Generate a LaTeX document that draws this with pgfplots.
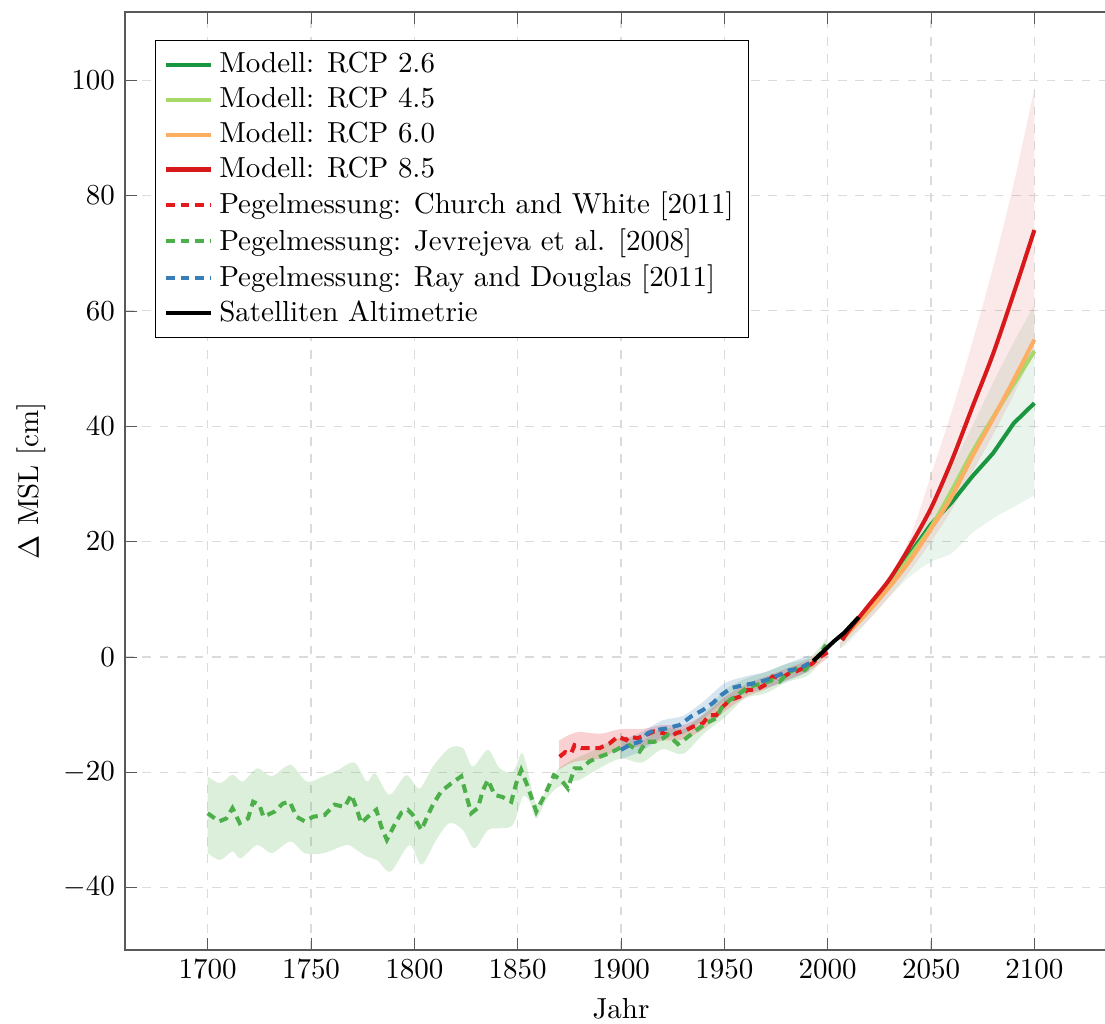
\documentclass[border=0pt]{standalone}
\usepackage{pgfplots}
\pgfplotsset{compat=1.18}
\usepgfplotslibrary{fillbetween}
\definecolor{cA}{HTML}{1A9641}
\definecolor{cB}{HTML}{A6D96A}
\definecolor{cC}{HTML}{FDAE61}
\definecolor{cD}{HTML}{D7191C}
\definecolor{cCW}{HTML}{E41A1C}
\definecolor{cJ}{HTML}{4DAF4A}
\definecolor{cRD}{HTML}{377EB8}
\begin{document}
\begin{tikzpicture}
\begin{axis}[
  scale only axis,
  width=342.24pt, height=323.61pt,
  xmin=1660, xmax=2140, ymin=-50.8, ymax=111.8,
  xtick={1700,1750,...,2100},
  ytick={-40,-20,...,100},
  xticklabel style={/pgf/number format/1000 sep={}},
  grid=major,
  major grid style={dashed, black!14},
  axis line style={black!65},
  tick style={black!65},
  xlabel={Jahr},
  ylabel={$\Delta$ MSL [cm]},
  ylabel style={yshift=-1pt},
  legend pos=north west,
  legend cell align=left,
  legend style={draw=black, fill=white, row sep=-0.5pt},
  legend image code/.code={\draw[#1] (0cm,0cm) -- (0.55cm,0cm);},
]
\coordinate (O) at (rel axis cs:0,0);
% ---------------- bands ----------------
% Jevrejeva band
\addplot[name path=JU, draw=none, smooth, forget plot] coordinates {
(1700,-20.7)(1706,-21.9)(1712,-20.4)(1717,-21.6)(1724,-19.3)(1731,-20.7)(1740,-18.7)(1748,-21.6)(1756,-20.7)(1763,-19.6)(1771,-18.3)(1777,-21.6)(1781,-20.2)(1788,-23.9)(1796,-20.5)(1802.5,-22.8)(1809,-19)(1817,-15.8)(1823.5,-15.8)(1828.3,-19)(1835.6,-16.1)(1841.2,-19.3)(1847.7,-19.9)(1851.7,-16.7)(1854,-18.4)(1859,-25.5)(1863.8,-23)(1868.6,-19.9)(1872,-18.8)(1876.7,-17.8)(1885,-16.5)(1890,-15.5)(1900,-14)(1910,-14.5)(1920,-12.3)(1930,-12.5)(1940,-9.8)(1950,-5.8)(1960,-3.8)(1970,-2.6)(1980,-1.2)(1990,-0.3)(1995,1.2)(2000,3.5)};
\addplot[name path=JL, draw=none, smooth, forget plot] coordinates {
(1700,-34)(1706,-35.2)(1712,-33.7)(1716,-34.9)(1724,-32.6)(1731,-34)(1740,-32)(1747,-34)(1756,-34)(1767,-32.6)(1771,-33.2)(1777,-34.6)(1782,-35.2)(1788.5,-37.2)(1797.6,-32.6)(1803.5,-36)(1810.6,-31.7)(1817,-28.8)(1823.5,-30)(1829,-33.2)(1835.6,-30)(1841.2,-29.7)(1847.7,-29.1)(1852.5,-24.2)(1855.8,-25.1)(1859,-28)(1863.8,-24.8)(1868.6,-22.8)(1876.7,-21.5)(1880,-21.3)(1890,-19.2)(1900,-17.6)(1910,-18.3)(1920,-16)(1930,-16.8)(1940,-13.3)(1950,-10.5)(1960,-7.2)(1970,-6.3)(1980,-4.4)(1990,-3.3)(1995,-1.5)(2000,0.8)};
\addplot[fill=cJ, fill opacity=0.2, draw=none, forget plot] fill between[of=JU and JL];
% Church and White band
\addplot[name path=CU, draw=none, smooth, forget plot] coordinates {
(1870,-14.5)(1875,-13.5)(1880,-13)(1890,-13.3)(1900,-12.5)(1910,-12.5)(1920,-11.8)(1930,-11.8)(1940,-10)(1950,-7)(1960,-4.8)(1970,-3.4)(1980,-2)(1990,-0.6)(2000,1.8)};
\addplot[name path=CL, draw=none, smooth, forget plot] coordinates {
(1870,-19.5)(1875,-18.5)(1880,-18)(1890,-17.6)(1900,-15.8)(1910,-15.5)(1920,-14.5)(1930,-14.3)(1940,-12.5)(1950,-9.5)(1960,-7)(1970,-5.6)(1980,-4)(1990,-2.6)(2000,-0.2)};
\addplot[fill=cCW, fill opacity=0.2, draw=none, forget plot] fill between[of=CU and CL];
% Ray and Douglas band
\addplot[name path=RU, draw=none, smooth, forget plot] coordinates {
(1900,-14.5)(1910,-13)(1920,-11)(1930,-10.2)(1940,-7.7)(1950,-4.6)(1960,-3.4)(1970,-2.6)(1980,-1.2)(1991,0.3)};
\addplot[name path=RL, draw=none, smooth, forget plot] coordinates {
(1900,-17.7)(1910,-16.3)(1920,-14)(1930,-13.4)(1940,-10.7)(1950,-7.7)(1960,-6.4)(1970,-5.4)(1980,-4.2)(1991,-2.5)};
\addplot[fill=cRD, fill opacity=0.2, draw=none, forget plot] fill between[of=RU and RL];
% RCP 2.6 band
\addplot[name path=AU, draw=none, smooth, forget plot] coordinates {
(2006,2.5)(2010,4.2)(2020,8.5)(2030,13)(2040,19)(2050,26)(2060,33)(2070,40)(2080,47.5)(2090,54.5)(2100,61)};
\addplot[name path=AL, draw=none, smooth, forget plot] coordinates {
(2006,1.5)(2010,2.5)(2020,6.5)(2030,10.5)(2040,14)(2050,16.5)(2060,18)(2070,21.5)(2080,24)(2090,26)(2100,28)};
\addplot[fill=cA, fill opacity=0.1, draw=none, forget plot] fill between[of=AU and AL];
% RCP 8.5 band
\addplot[name path=DU, draw=none, smooth, forget plot] coordinates {
(2006,2.5)(2010,4.3)(2020,8.3)(2030,13.3)(2040,20.8)(2050,31.5)(2060,42.5)(2070,54.5)(2080,67.5)(2090,82)(2100,98.5)};
\addplot[name path=DL, draw=none, smooth, forget plot] coordinates {
(2006,1.5)(2010,3)(2020,6.5)(2030,10.5)(2040,15)(2050,20)(2060,25.5)(2070,32)(2080,38.5)(2090,45.5)(2100,53)};
\addplot[fill=cD, fill opacity=0.1, draw=none, forget plot] fill between[of=DU and DL];
% ---------------- lines ----------------
\addplot[cA, line width=1.4pt] coordinates {
(2007,3)(2010,4.3)(2020,8.3)(2030,12.8)(2040,18)(2050,23)(2060,26.8)(2070,31.3)(2080,35.3)(2090,40.5)(2100,44)};
\addlegendentry{Modell: RCP 2.6}
\addplot[cB, line width=1.4pt, smooth] coordinates {
(2007,3)(2010,4.3)(2020,8.3)(2030,12.5)(2040,17.5)(2050,22.5)(2060,28.8)(2070,35.5)(2080,41.5)(2090,47.3)(2100,53)};
\addlegendentry{Modell: RCP 4.5}
\addplot[cC, line width=1.4pt, smooth] coordinates {
(2007,3)(2010,4.2)(2020,8)(2030,12.2)(2040,16.8)(2050,22.2)(2060,27.8)(2070,34.8)(2080,41.3)(2090,48)(2100,55)};
\addlegendentry{Modell: RCP 6.0}
\addplot[cD, line width=1.4pt, smooth] coordinates {
(2007,2.9)(2010,4.5)(2020,9)(2030,13.5)(2040,19.3)(2050,25.8)(2060,34)(2070,43.3)(2080,52.5)(2090,63)(2100,74)};
\addlegendentry{Modell: RCP 8.5}
\addplot[cCW, line width=1.4pt, densely dashed] coordinates {
(1870.3,-17.3)(1873,-16.5)(1875.9,-16.7)(1877.5,-15.3)(1880.7,-15.8)(1884,-15.8)(1889.6,-15.8)(1894.4,-15)(1898.5,-13.8)(1902.5,-14.4)(1904,-13.8)(1908,-14.1)(1912.2,-13.5)(1916,-12.9)(1920.3,-13.2)(1924.3,-13.8)(1926.7,-13.2)(1931.5,-12.7)(1934.7,-12.1)(1939.6,-11.5)(1942.8,-10.1)(1946.1,-10.1)(1948.5,-8.9)(1952.5,-7.5)(1957.3,-6.9)(1961.3,-5.7)(1965.4,-5.7)(1969.4,-4.9)(1973.4,-3.4)(1977.5,-3.7)(1981.5,-2.8)(1984.7,-2.5)(1989.6,-1.7)(1992.8,-1.1)(1995.2,-0.2)(2000,0.8)};
\addlegendentry{Pegelmessung: Church and White [2011]}
\addplot[cJ, line width=1.4pt, densely dashed] coordinates {
(1700,-27.1)(1705.5,-28.5)(1709,-28)(1712,-26.2)(1715.5,-28.8)(1719.5,-28)(1722,-25.1)(1725,-25.6)(1727,-27.7)(1732.4,-26.8)(1736.4,-25.4)(1739.7,-25.1)(1743,-27.7)(1747,-28.5)(1751,-27.7)(1756.6,-27.4)(1761.4,-25.6)(1766.3,-26)(1769.5,-23.9)(1772,-26.2)(1774.3,-28.8)(1777.5,-27.7)(1781.6,-26.5)(1784,-29.4)(1786.7,-31.7)(1790.4,-29.1)(1793.7,-27)(1796.9,-26.5)(1799.3,-27.4)(1803.4,-30)(1806.6,-27.4)(1809,-25.6)(1813,-23.3)(1817.9,-21.9)(1822.7,-20.7)(1825.1,-23.9)(1827.5,-27.1)(1830.7,-26.2)(1833.2,-23.1)(1835.6,-21.3)(1838.8,-23.9)(1842.8,-24.3)(1846.9,-25.1)(1849.3,-21.9)(1851.7,-19.6)(1854.9,-22.5)(1859,-26.8)(1863,-24)(1867.5,-20.5)(1871,-21.3)(1874.3,-22.8)(1877.5,-19.3)(1880.7,-19.3)(1884.8,-18.1)(1889.6,-17.3)(1894.4,-16.7)(1899.3,-15.8)(1904.1,-15.3)(1909,-16.4)(1912.2,-14.7)(1916.2,-14.7)(1920.3,-14.1)(1922.7,-13.5)(1927.5,-15.1)(1931.5,-14.1)(1936.4,-12.7)(1941.2,-11.5)(1946.1,-10.6)(1948.5,-8.9)(1952.5,-7.5)(1956.5,-6.6)(1960.6,-5.4)(1964.6,-4.9)(1968.6,-4.6)(1973.4,-4)(1976.7,-4.3)(1980.7,-2.8)(1984.7,-2)(1988.8,-2.3)(1992,-1.1)(1995.2,0)(1999.2,2.1)};
\addlegendentry{Pegelmessung: Jevrejeva et al. [2008]}
\addplot[cRD, line width=1.4pt, densely dashed] coordinates {
(1900,-16.1)(1904,-15.3)(1909,-14.7)(1913,-13.2)(1916.2,-12.7)(1921.9,-12.4)(1928.3,-11.8)(1934,-10.3)(1939.6,-9.2)(1944.4,-8)(1948.5,-6.6)(1953.3,-5.4)(1959,-4.9)(1963.8,-4.6)(1970.3,-4)(1976.7,-3.1)(1981.5,-2.3)(1986.3,-2)(1991.2,-1.1)};
\addlegendentry{Pegelmessung: Ray and Douglas [2011]}
\addplot[black, line width=1.4pt] coordinates {
(1993,-0.7)(1998,1)(2003,2.7)(2008,4.2)(2015,6.9)};
\addlegendentry{Satelliten Altimetrie}
\end{axis}
\pgfresetboundingbox
\path[use as bounding box] (O) ++(-43.125pt,-25.185pt) rectangle ++(381.225pt,352.935pt);
\end{tikzpicture}
\end{document}
